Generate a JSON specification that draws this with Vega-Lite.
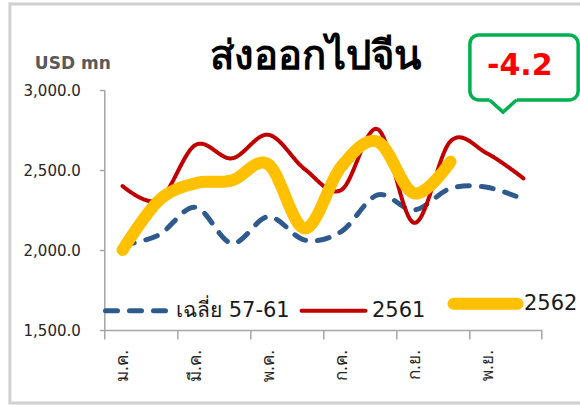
{
  "$schema": "https://vega.github.io/schema/vega-lite/v6.json",
  "width": 437.4,
  "height": 240,
  "autosize": {"type": "none"},
  "padding": {"left": 104.3, "top": 90, "right": 38.3, "bottom": 75},
  "background": "white",
  "title": {"text": "ส่งออกไปจีน", "fontSize": 40, "fontWeight": "bold", "color": "#000000", "anchor": "middle", "frame": "group", "dx": -8, "offset": -106.5, "baseline": "alphabetic"},
  "config": {
    "view": {"stroke": null},
    "axis": {"grid": false, "domainColor": "#A6A6A6", "tickColor": "#A6A6A6", "domainWidth": 1.5, "tickWidth": 1.5, "labelColor": "#262626", "labelFont": "DejaVu Sans"},
    "legend": {"labelFont": "DejaVu Sans", "labelFontSize": 21, "labelColor": "#1a1a1a"}
  },
  "datasets": {
    "lines": [
      {"m": 1, "series": "เฉลี่ย 57-61", "value": 2030},
      {"m": 2, "series": "เฉลี่ย 57-61", "value": 2095},
      {"m": 3, "series": "เฉลี่ย 57-61", "value": 2267},
      {"m": 4, "series": "เฉลี่ย 57-61", "value": 2042},
      {"m": 5, "series": "เฉลี่ย 57-61", "value": 2208},
      {"m": 6, "series": "เฉลี่ย 57-61", "value": 2062},
      {"m": 7, "series": "เฉลี่ย 57-61", "value": 2115},
      {"m": 8, "series": "เฉลี่ย 57-61", "value": 2344},
      {"m": 9, "series": "เฉลี่ย 57-61", "value": 2250},
      {"m": 10, "series": "เฉลี่ย 57-61", "value": 2385},
      {"m": 11, "series": "เฉลี่ย 57-61", "value": 2392},
      {"m": 12, "series": "เฉลี่ย 57-61", "value": 2317},
      {"m": 1, "series": "2561", "value": 2400},
      {"m": 2, "series": "2561", "value": 2312},
      {"m": 3, "series": "2561", "value": 2656},
      {"m": 4, "series": "2561", "value": 2573},
      {"m": 5, "series": "2561", "value": 2720},
      {"m": 6, "series": "2561", "value": 2505},
      {"m": 7, "series": "2561", "value": 2375},
      {"m": 8, "series": "2561", "value": 2755},
      {"m": 9, "series": "2561", "value": 2170},
      {"m": 10, "series": "2561", "value": 2680},
      {"m": 11, "series": "2561", "value": 2604},
      {"m": 12, "series": "2561", "value": 2448},
      {"m": 1, "series": "2562", "value": 2000},
      {"m": 2, "series": "2562", "value": 2310},
      {"m": 3, "series": "2562", "value": 2417},
      {"m": 4, "series": "2562", "value": 2435},
      {"m": 5, "series": "2562", "value": 2535},
      {"m": 6, "series": "2562", "value": 2135},
      {"m": 7, "series": "2562", "value": 2521},
      {"m": 8, "series": "2562", "value": 2677},
      {"m": 9, "series": "2562", "value": 2354},
      {"m": 10, "series": "2562", "value": 2552}
    ]
  },
  "layer": [
    {
      "data": {"values": [{"x1": -2.09, "x2": 20, "y1": 3537.5, "y2": 1043.75}]},
      "mark": {"type": "rect", "fillOpacity": 0, "stroke": "#D0D0D0", "strokeWidth": 3},
      "encoding": {
        "x": {"field": "x1", "type": "quantitative"},
        "x2": {"field": "x2"},
        "y": {"field": "y1", "type": "quantitative"},
        "y2": {"field": "y2"}
      }
    },
    {
      "data": {"name": "lines"},
      "transform": [{"filter": "datum.series === 'เฉลี่ย 57-61'"}],
      "mark": {"type": "line", "interpolate": "cardinal", "strokeCap": "round", "strokeJoin": "round", "strokeWidth": 5},
      "encoding": {
        "x": {"field": "m", "type": "quantitative", "scale": {"domain": [0.5, 12.5], "nice": false, "zero": false},
          "axis": {"title": null, "values": [0.5, 1.5, 2.5, 3.5, 4.5, 5.5, 6.5, 7.5, 8.5, 9.5, 10.5, 11.5, 12.5], "tickSize": 9, "labelAngle": -90, "labelAlign": "right", "labelBaseline": "middle", "labelPadding": 10, "labelOffset": 18.2, "labelFontSize": 17, "labelOverlap": false, "labelBound": false, "labelFlush": false,
            "labelExpr": "indexof([0.5,2.5,4.5,6.5,8.5,10.5], datum.value) >= 0 ? ['ม.ค.','มี.ค.','พ.ค.','ก.ค.','ก.ย.','พ.ย.'][indexof([0.5,2.5,4.5,6.5,8.5,10.5], datum.value)] : ''"}},
        "y": {"field": "value", "type": "quantitative", "scale": {"domain": [1500, 3000], "nice": false, "zero": false},
          "axis": {"values": [1500, 2000, 2500, 3000], "format": ",.1f", "tickSize": 5, "labelPadding": 19, "labelFontSize": 15,
            "title": "USD mn", "titleAngle": 0, "titleX": -32, "titleY": -27, "titleAlign": "center", "titleBaseline": "middle", "titleFont": "DejaVu Sans", "titleFontSize": 17, "titleFontWeight": "bold", "titleColor": "#595959"}},
        "color": {"field": "series", "type": "nominal", "scale": {"domain": ["เฉลี่ย 57-61", "2561", "2562"], "range": ["#2F5A8E", "#C00000", "#FFC000"]},
          "legend": {"title": null, "orient": "none", "legendX": 22.7, "legendY": 203, "direction": "horizontal", "symbolType": "stroke", "symbolSize": 4096, "labelOffset": 28, "columnPadding": 3, "padding": 0,
            "encode": {"symbols": {"update": {"strokeCap": {"value": "round"}, "strokeWidth": {"signal": "datum.value === '2562' ? 12 : datum.value === '2561' ? 4 : 5"}}}}}},
        "strokeDash": {"field": "series", "type": "nominal", "scale": {"domain": ["เฉลี่ย 57-61", "2561", "2562"], "range": [[12, 12], [1, 0], [1, 0]]}}
      }
    },
    {
      "data": {"name": "lines"},
      "transform": [{"filter": "datum.series === '2561'"}],
      "mark": {"type": "line", "interpolate": "cardinal", "strokeCap": "round", "strokeJoin": "round", "strokeWidth": 4},
      "encoding": {
        "x": {"field": "m", "type": "quantitative"},
        "y": {"field": "value", "type": "quantitative"},
        "color": {"field": "series", "type": "nominal"},
        "strokeDash": {"field": "series", "type": "nominal"}
      }
    },
    {
      "data": {"name": "lines"},
      "transform": [{"filter": "datum.series === '2562'"}],
      "mark": {"type": "line", "interpolate": "cardinal", "strokeCap": "round", "strokeJoin": "round", "strokeWidth": 12},
      "encoding": {
        "x": {"field": "m", "type": "quantitative"},
        "y": {"field": "value", "type": "quantitative"},
        "color": {"field": "series", "type": "nominal"},
        "strokeDash": {"field": "series", "type": "nominal"}
      }
    },
    {
      "data": {"values": [{"x1": 10.53, "x2": 13.5, "y1": 3344, "y2": 2937.5}]},
      "mark": {"type": "rect", "fill": "white", "stroke": "#00B050", "strokeWidth": 3.5, "cornerRadius": 9},
      "encoding": {
        "x": {"field": "x1", "type": "quantitative"},
        "x2": {"field": "x2"},
        "y": {"field": "y1", "type": "quantitative"},
        "y2": {"field": "y2"}
      }
    },
    {
      "data": {"values": [{"px": 11.44, "py": 2937.5}]},
      "mark": {"type": "point", "shape": "M-1,-0.35L1,-0.35L1,0L0,0.9L-1,0Z", "size": 729, "filled": true, "fill": "white", "strokeWidth": 0, "opacity": 1},
      "encoding": {
        "x": {"field": "px", "type": "quantitative"},
        "y": {"field": "py", "type": "quantitative"}
      }
    },
    {
      "data": {"values": [{"px": 11.44, "py": 2937.5}]},
      "mark": {"type": "point", "shape": "M-1,0L0,0.9L1,0", "size": 729, "filled": false, "stroke": "#00B050", "strokeWidth": 3.5, "strokeJoin": "miter", "opacity": 1},
      "encoding": {
        "x": {"field": "px", "type": "quantitative"},
        "y": {"field": "py", "type": "quantitative"}
      }
    },
    {
      "data": {"values": [{"px": 11.9, "py": 3094, "label": "-4.2"}]},
      "mark": {"type": "text", "font": "DejaVu Sans", "fontWeight": "bold", "fontSize": 30, "color": "#FF0000", "align": "center", "baseline": "alphabetic"},
      "encoding": {
        "x": {"field": "px", "type": "quantitative"},
        "y": {"field": "py", "type": "quantitative"},
        "text": {"field": "label"}
      }
    }
  ]
}
